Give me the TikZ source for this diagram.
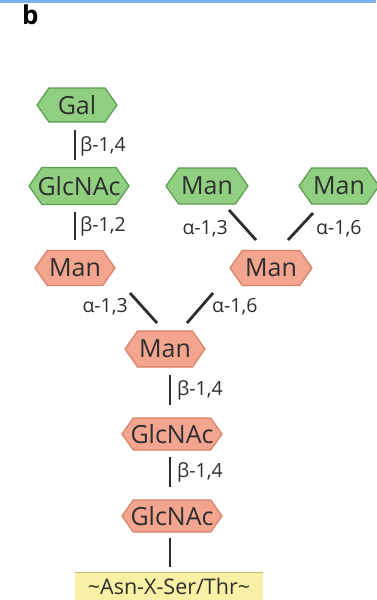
\documentclass[tikz,border=0pt]{standalone}
\usepackage{fontspec}
\setmainfont{Open Sans}
\usetikzlibrary{shapes.symbols,calc}
\definecolor{gfill}{HTML}{90CF80}
\definecolor{gline}{HTML}{5C9C52}
\definecolor{rfill}{HTML}{F3A58F}
\definecolor{rline}{HTML}{D98068}
\definecolor{yfill}{HTML}{F8F0A4}
\definecolor{yline}{HTML}{C8B870}
\definecolor{topblue}{HTML}{7AB0EC}
\definecolor{ink}{HTML}{2E2E2E}
\tikzset{
  hexa/.style={shape=signal, signal to=west and east, signal pointer angle=110,
    inner ysep=0pt, inner xsep=-10pt, line width=1.2pt, text=ink, font=\fontsize{25}{25}\selectfont},
  greenhex/.style={hexa, fill=gfill, draw=gline},
  redhex/.style={hexa, fill=rfill, draw=rline},
  link/.style={draw=ink, line width=2.8pt},
  lab/.style={text=ink, inner sep=0pt, font=\fontsize{19.5}{19.5}\selectfont},
}
\begin{document}
\begin{tikzpicture}[x=1pt,y=-1pt]
\useasboundingbox (0,0) rectangle (376,600);
\fill[white] (0,0) rectangle (376,600);
\fill[topblue] (0,0) rectangle (376,2.5);
\node[font=\fontsize{26}{26}\selectfont\bfseries, text=black, inner sep=0pt, anchor=north west] (lbl) at (22,5) {b};

% nodes
\node[greenhex, minimum width=80pt, minimum height=34pt] (gal) at (77,105) {Gal};
\node[greenhex, minimum width=100pt, minimum height=37pt] (glc1) at (79,186) {GlcNAc};
\node[redhex, minimum width=80pt, minimum height=35pt] (manL) at (75,268) {Man};
\node[greenhex, minimum width=82pt, minimum height=36pt] (manG1) at (207,186) {Man};
\node[greenhex, minimum width=80pt, minimum height=36pt] (manG2) at (339,186) {Man};
\node[redhex, minimum width=82pt, minimum height=35pt] (manR) at (271,268) {Man};
\node[redhex, minimum width=80pt, minimum height=36pt] (man) at (165,349) {Man};
\node[redhex, minimum width=100pt, minimum height=32pt] (glc2) at (172,434) {GlcNAc};
\node[redhex, minimum width=100pt, minimum height=32pt] (glc3) at (172,516) {GlcNAc};
\node[fill=yfill, minimum width=188pt, minimum height=27pt, inner sep=0pt, text=ink,
      font=\fontsize{21.5}{21.5}\selectfont] (pep) at (169,586) {\textasciitilde Asn-X-Ser/Thr\textasciitilde};
\draw[yline, line width=1pt] (pep.north west) -- (pep.north east);

% connectors
\draw[link] ($(gal)+(-2,25)$) -- ($(glc1)+(-4,-26)$);
\draw[link] ($(glc1)+(-4,26)$) -- ($(manL)+(0,-28)$);
\draw[link] ($(manG1)+(22,24)$) -- ($(manR)+(-15,-28)$);
\draw[link] ($(manG2)+(-26,27)$) -- ($(manR)+(17,-28)$);
\draw[link] ($(manL)+(55,25)$) -- ($(man)+(-8,-26)$);
\draw[link] ($(manR)+(-58,25)$) -- ($(man)+(22,-26)$);
\draw[link] ($(man)+(5,26)$) -- ($(glc2)+(-2,-29)$);
\draw[link] ($(glc2)+(-2,23)$) -- ($(glc3)+(-2,-29)$);
\draw[link] ($(glc3)+(-2,22)$) -- ($(pep.north)+(1,-5)$);

% labels
\node[lab, anchor=west] (l1) at (80,146) {β-1,4};
\node[lab, anchor=west] (l2) at (80,226) {β-1,2};
\node[lab, anchor=east] (l3) at (228,229) {α-1,3};
\node[lab, anchor=west] (l4) at (316,229) {α-1,6};
\node[lab, anchor=east] (l5) at (128,307) {α-1,3};
\node[lab, anchor=west] (l6) at (212,307) {α-1,6};
\node[lab, anchor=west] (l7) at (177,390) {β-1,4};
\node[lab, anchor=west] (l8) at (177,472) {β-1,4};
\end{tikzpicture}
\end{document}
